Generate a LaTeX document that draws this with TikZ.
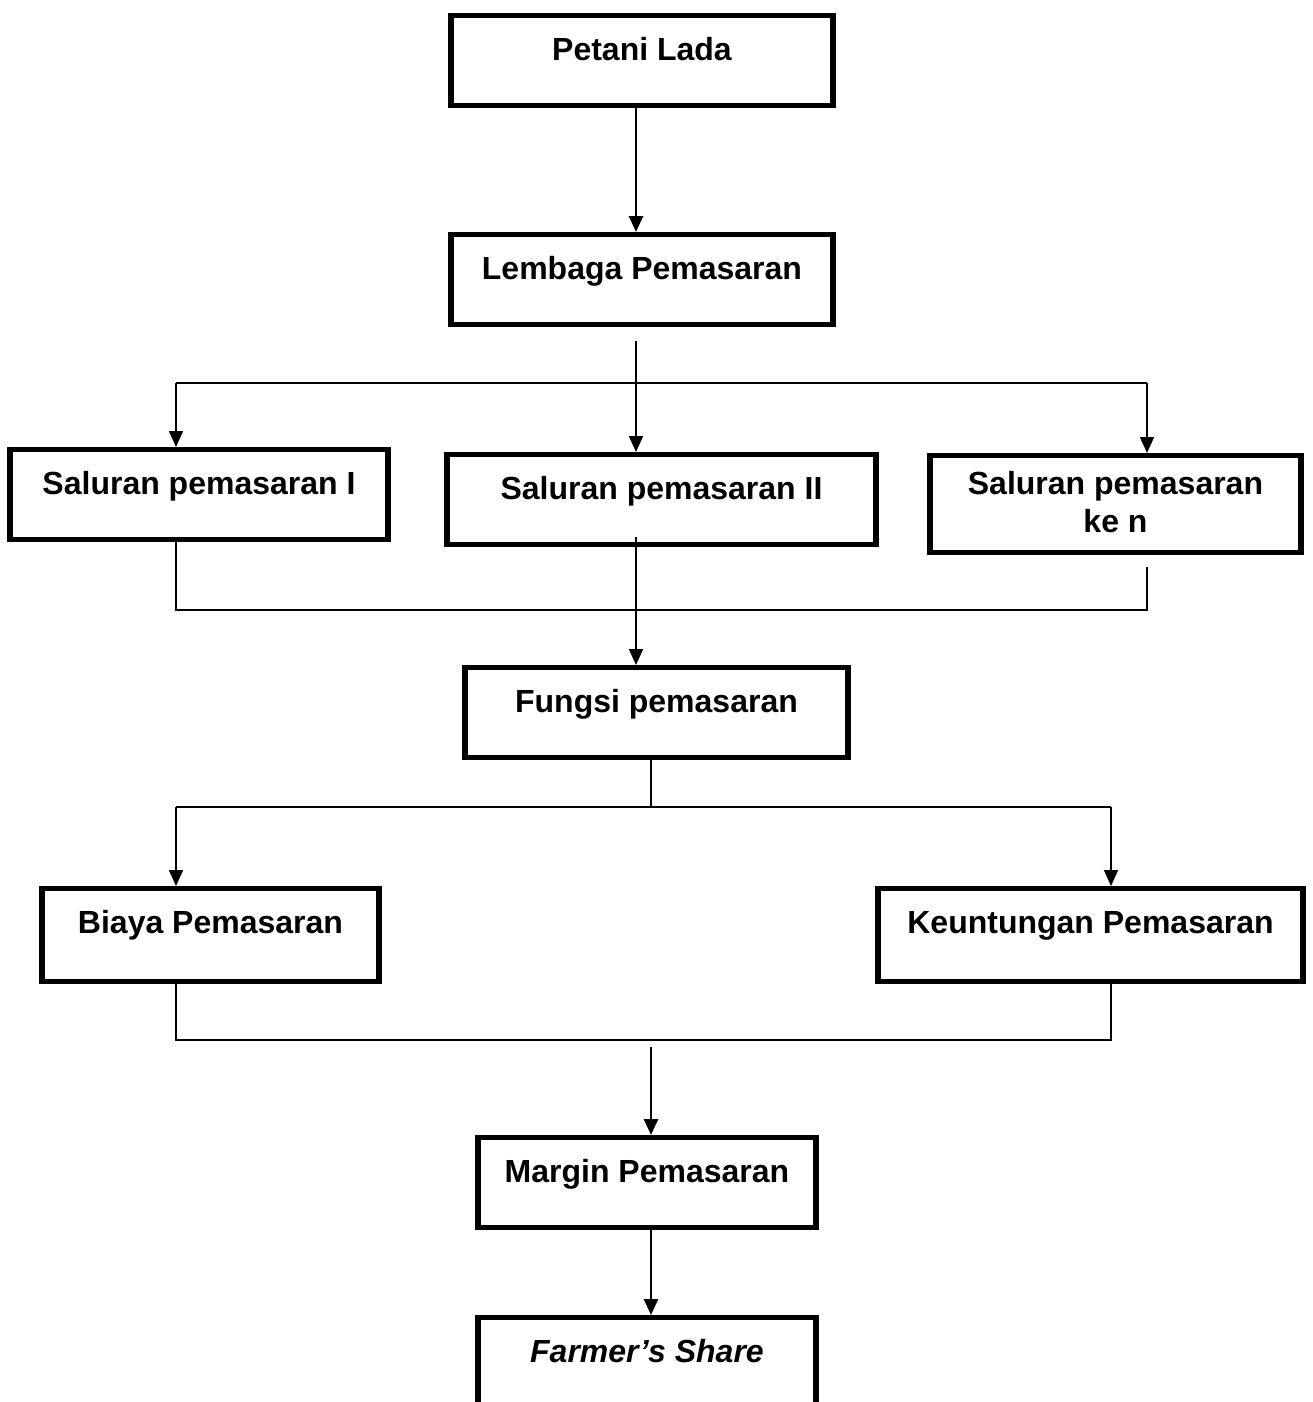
\documentclass[tikz,border=0pt]{standalone}
\usepackage{fontspec}
\setmainfont{Liberation Sans}
\usetikzlibrary{arrows.meta,calc}
\begin{document}
\begin{tikzpicture}[
  x=0.5pt, y=-0.5pt,
  box/.style={draw, line width=2.7pt, inner sep=0pt, anchor=north, align=center,
    text height=22.5pt, text depth=22.5pt,
    font=\bfseries\fontsize{16pt}{19pt}\selectfont},
  arr/.style={-{Triangle[length=8pt,width=7pt]}, line width=1.3pt},
  link/.style={line width=0.9pt},
  linkarr/.style={link, -{Triangle[length=8pt,width=7pt]}}
]
\useasboundingbox (0,0) rectangle (1312,1402);
\clip (0,0) rectangle (1312,1402);
\node[box, minimum width=191pt] (petani) at (642,13) {Petani Lada};
\node[box, minimum width=191pt] (lembaga) at (642,232) {Lembaga Pemasaran};
\node[box, minimum width=189pt] (sal1) at (199,447) {Saluran pemasaran I};
\node[box, minimum width=214.5pt] (sal2) at (661.5,452) {Saluran pemasaran II};
\node[box, minimum width=185.5pt, text height=38.5pt, text depth=10pt] (saln) at (1115.5,453) {Saluran pemasaran\\ke n};
\node[box, minimum width=191.5pt] (fungsi) at (656.5,665) {Fungsi pemasaran};
\node[box, minimum width=168.5pt, text depth=24pt] (biaya) at (210.5,886) {Biaya Pemasaran};
\node[box, minimum width=212.5pt, text depth=24pt] (keunt) at (1090.5,886) {Keuntungan Pemasaran};
\node[box, minimum width=169pt] (margin) at (647,1135) {Margin Pemasaran};
\node[box, minimum width=169pt, text depth=60pt] (farmer) at (647,1315) {\itshape Farmer’s Share};
% split points
\coordinate (sp) at (636,383);
\coordinate (spL) at (176,383);
\coordinate (spR) at (1147,383);
\coordinate (jL) at (176,610);
\coordinate (jR) at (1147,610);
\coordinate (fs) at (651,807);
\coordinate (fsL) at (176,807);
\coordinate (fsR) at (1111,807);
\coordinate (bjL) at (176,1040);
\coordinate (bjR) at (1111,1040);
\coordinate (mg) at (651,1047);
\draw[arr] (petani.south -| sp) -- (lembaga.north -| sp);
\draw[linkarr] ($(lembaga.south -| sp)+(0,14)$) -- (sal2.north -| sp);
\draw[link] (spL) -- (spR);
\draw[linkarr] (spL) -- (sal1.north -| spL);
\draw[linkarr] (spR) -- (saln.north -| spR);
\draw[link] (sal1.south -| jL) -- (jL) -- (jR) -- ($(saln.south -| jR)+(0,12)$);
\draw[linkarr] ($(sal2.south -| sp)+(0,-10)$) -- (fungsi.north -| sp);
\draw[link] (fungsi.south -| fs) -- (fs);
\draw[link] (fsL) -- (fsR);
\draw[linkarr] (fsL) -- (biaya.north -| fsL);
\draw[linkarr] (fsR) -- (keunt.north -| fsR);
\draw[link] (biaya.south -| bjL) -- (bjL) -- (bjR) -- (keunt.south -| bjR);
\draw[arr] (mg) -- (margin.north -| mg);
\draw[arr] (margin.south -| mg) -- (farmer.north -| mg);
\end{tikzpicture}
\end{document}
